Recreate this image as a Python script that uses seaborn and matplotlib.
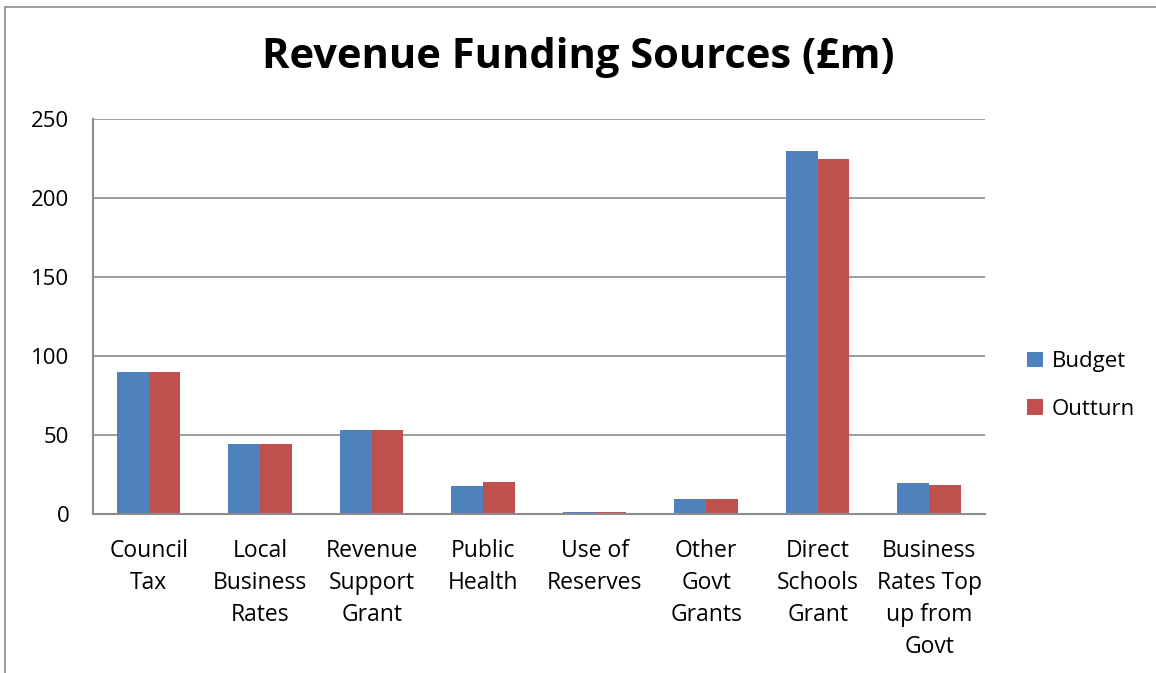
import pandas as pd
import matplotlib.pyplot as plt
import seaborn as sns
from matplotlib.lines import Line2D

# Dados do grafico
categories = ["Council\nTax", "Local\nBusiness\nRates", "Revenue\nSupport\nGrant", "Public\nHealth",
              "Use of\nReserves", "Other\nGovt\nGrants", "Direct\nSchools\nGrant",
              "Business\nRates Top\nup from\nGovt"]
budget = [90, 44, 53, 18, 1.5, 9.6, 229.5, 19.5]
outturn = [90, 44, 53, 20, 1.5, 9.6, 224.5, 18.6]

df = pd.DataFrame({
    "category": categories * 2,
    "value": budget + outturn,
    "series": ["Budget"] * len(categories) + ["Outturn"] * len(categories),
})

sns.set_style("white")
plt.rcParams["font.family"] = ["Open Sans", "DejaVu Sans"]
plt.rcParams["text.color"] = "black"
plt.rcParams["xtick.labelcolor"] = "black"
plt.rcParams["ytick.labelcolor"] = "black"

fig = plt.figure(figsize=(11.56, 6.73), dpi=100)
ax = fig.add_axes([0.0804, 0.2363, 0.7716, 0.5869])

sns.barplot(data=df, x="category", y="value", hue="series", ax=ax,
            palette=["#4F81BD", "#C0504D"], width=0.57, gap=0, saturation=1,
            edgecolor="none")

ax.set_ylim(0, 250)
ax.set_xlim(-0.5, len(categories) - 0.5)
ax.set_yticks([0, 50, 100, 150, 200, 250])
ax.yaxis.grid(True, color="#8C8C8C", linewidth=1.2)
ax.set_axisbelow(True)
for s in ["top", "right"]:
    ax.spines[s].set_visible(False)
for s in ["left", "bottom"]:
    ax.spines[s].set_color("#8C8C8C")
    ax.spines[s].set_linewidth(1.5)
ax.tick_params(axis="y", labelsize=16, length=5, color="#8C8C8C", direction="out", pad=12)
ax.tick_params(axis="x", labelsize=16.5, length=0, pad=18)
for lab in ax.get_xticklabels():
    lab.set_linespacing(1.45)
ax.set_xlabel("")
ax.set_ylabel("")

fig.suptitle("Revenue Funding Sources (£m)", fontsize=30, fontweight="bold", y=0.945, color="black")

ax.legend(loc="center left", bbox_to_anchor=(1.025, 0.325), frameon=False, fontsize=16,
          handlelength=0.7, handleheight=0.7, handletextpad=0.4, labelspacing=1.2)

# moldura
fig.add_artist(Line2D([0.004, 1.0], [0.99, 0.99], color="#8C8C8C", linewidth=1.2))
fig.add_artist(Line2D([0.004, 0.004], [0.0, 0.99], color="#8C8C8C", linewidth=1.2))

plt.savefig("out.png", dpi=100)
